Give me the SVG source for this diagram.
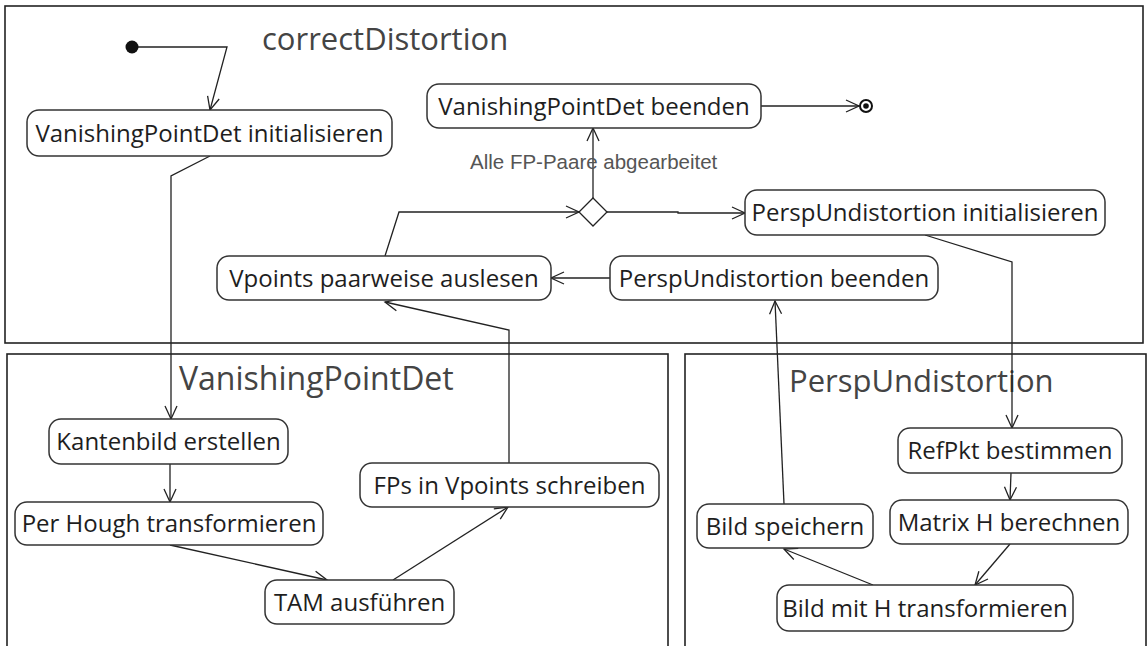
<svg xmlns="http://www.w3.org/2000/svg" width="1148" height="646" viewBox="0 0 1148 646">
<style>
.frame{fill:none;stroke:#222;stroke-width:1.6}
.title{font-family:"Open Sans","Noto Sans",sans-serif;font-size:31px;fill:#444}
.box{fill:#fff;stroke:#333;stroke-width:1.5}
.lbl{font-family:"Open Sans","Noto Sans",sans-serif;font-size:24px;fill:#1e1e1e;text-anchor:middle}
.edge{fill:none;stroke:#222;stroke-width:1.3}
.guard{font-family:"Liberation Sans",Arial,sans-serif;font-size:20.5px;fill:#555}
</style>
<defs>
<marker id="arr" markerUnits="userSpaceOnUse" markerWidth="16" markerHeight="16" viewBox="-14 -8 16 16" refX="0" refY="0" orient="auto">
<path d="M-13,-6 L0,0 L-13,6" fill="none" stroke="#222" stroke-width="1.3"/>
</marker>
</defs>
<rect width="1148" height="646" fill="#fff"/>
<g id="frame-correctDistortion">
<rect class="frame" x="5" y="6" width="1138" height="337"/>
<text class="title" x="262" y="50">correctDistortion</text>
</g>
<g id="frame-VanishingPointDet">
<rect class="frame" x="7" y="354" width="661" height="320"/>
<text class="title" x="179" y="390" style="font-size:32px">VanishingPointDet</text>
</g>
<g id="frame-PerspUndistortion">
<rect class="frame" x="685" y="354" width="461" height="320"/>
<text class="title" x="789" y="392">PerspUndistortion</text>
</g>
<g id="connectors">
<polyline class="edge" points="132,47 227,47 210,110" marker-end="url(#arr)"/>
<polyline class="edge" points="210,156 171,176 171,419" marker-end="url(#arr)"/>
<line class="edge" x1="170" y1="464" x2="170" y2="502" marker-end="url(#arr)"/>
<line class="edge" x1="170" y1="545" x2="327" y2="580" marker-end="url(#arr)"/>
<line class="edge" x1="393" y1="580" x2="508" y2="507" marker-end="url(#arr)"/>
<polyline class="edge" points="509,463 509,330 385,302" marker-end="url(#arr)"/>
<polyline class="edge" points="385,256 399,212 579,212" marker-end="url(#arr)"/>
<line class="edge" x1="593" y1="198" x2="593" y2="128" marker-end="url(#arr)"/>
<polyline class="edge" points="607,212 678,212 678,213 745,213" marker-end="url(#arr)"/>
<line class="edge" x1="761" y1="106" x2="859" y2="106" marker-end="url(#arr)"/>
<polyline class="edge" points="925,235 1012,262 1012,428" marker-end="url(#arr)"/>
<line class="edge" x1="1011" y1="473" x2="1010" y2="500" marker-end="url(#arr)"/>
<line class="edge" x1="1010" y1="544" x2="975" y2="585" marker-end="url(#arr)"/>
<line class="edge" x1="873" y1="585" x2="784" y2="549" marker-end="url(#arr)"/>
<line class="edge" x1="784" y1="504" x2="775" y2="301" marker-end="url(#arr)"/>
<line class="edge" x1="610" y1="278" x2="551" y2="278" marker-end="url(#arr)"/>
<text class="guard" x="470" y="169">Alle FP-Paare abgearbeitet</text>
</g>
<g id="initial"><circle cx="132" cy="47" r="6.5" fill="#111"/></g>
<g id="final"><circle cx="866" cy="106" r="6" fill="#fff" stroke="#111" stroke-width="2"/><circle cx="866" cy="106" r="2.8" fill="#111"/></g>
<g id="decision"><path d="M593,198 L607,212 L593,226 L579,212 Z" fill="#fff" stroke="#222" stroke-width="1.3"/></g>
<g id="vpd-init"><rect class="box" x="27" y="110" width="365" height="46" rx="12"/><text class="lbl" x="209.5" y="141.5">VanishingPointDet initialisieren</text></g>
<g id="vpd-end"><rect class="box" x="427" y="84" width="334" height="44" rx="12"/><text class="lbl" x="594" y="114.5">VanishingPointDet beenden</text></g>
<g id="pu-init"><rect class="box" x="745" y="190" width="360" height="45" rx="12"/><text class="lbl" x="925" y="221">PerspUndistortion initialisieren</text></g>
<g id="vpoints"><rect class="box" x="217" y="256" width="334" height="44" rx="12"/><text class="lbl" x="384" y="286.5">Vpoints paarweise auslesen</text></g>
<g id="pu-end"><rect class="box" x="610" y="256" width="328" height="44" rx="12"/><text class="lbl" x="774" y="286.5">PerspUndistortion beenden</text></g>
<g id="kantenbild"><rect class="box" x="49" y="419" width="239" height="45" rx="12"/><text class="lbl" x="168.5" y="450">Kantenbild erstellen</text></g>
<g id="hough"><rect class="box" x="15" y="502" width="308" height="43" rx="12"/><text class="lbl" x="169" y="532">Per Hough transformieren</text></g>
<g id="tam"><rect class="box" x="265" y="580" width="189" height="44" rx="12"/><text class="lbl" x="359.5" y="610.5">TAM ausführen</text></g>
<g id="fps"><rect class="box" x="360" y="463" width="299" height="44" rx="12"/><text class="lbl" x="509.5" y="493.5">FPs in Vpoints schreiben</text></g>
<g id="refpkt"><rect class="box" x="898" y="428" width="224" height="45" rx="12"/><text class="lbl" x="1010" y="459">RefPkt bestimmen</text></g>
<g id="matrix"><rect class="box" x="890" y="500" width="238" height="44" rx="12"/><text class="lbl" x="1009" y="530.5">Matrix H berechnen</text></g>
<g id="bild-speichern"><rect class="box" x="697" y="504" width="176" height="44" rx="12"/><text class="lbl" x="785" y="534.5">Bild speichern</text></g>
<g id="bild-h"><rect class="box" x="777" y="585" width="296" height="46" rx="12"/><text class="lbl" x="925" y="616.5">Bild mit H transformieren</text></g>
</svg>
